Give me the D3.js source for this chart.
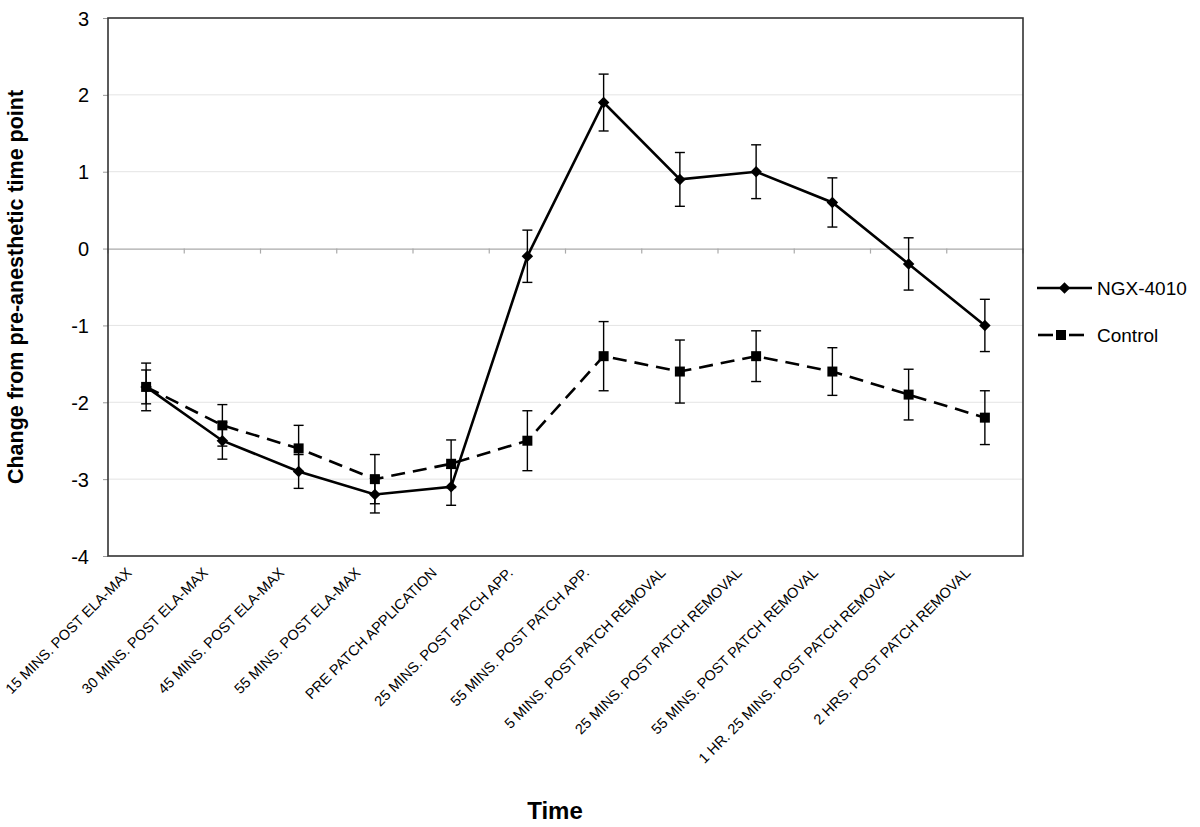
<!DOCTYPE html>
<html>
<head>
<meta charset="utf-8">
<script src="https://cdn.jsdelivr.net/npm/d3@7"></script>
<style>
  body { margin: 0; background: #fff; }
  svg { display: block; font-family: Arial, "Liberation Sans", sans-serif; }
</style>
</head>
<body>
<svg id="chart" width="1200" height="827"></svg>
<script>
const categories = [
  "15 MINS. POST ELA-MAX",
  "30 MINS. POST ELA-MAX",
  "45 MINS. POST ELA-MAX",
  "55 MINS. POST ELA-MAX",
  "PRE PATCH APPLICATION",
  "25 MINS. POST PATCH APP.",
  "55 MINS. POST PATCH APP.",
  "5 MINS. POST PATCH REMOVAL",
  "25 MINS. POST PATCH REMOVAL",
  "55 MINS. POST PATCH REMOVAL",
  "1 HR. 25 MINS. POST PATCH REMOVAL",
  "2 HRS. POST PATCH REMOVAL"
];
const ngxValues   = [-1.8, -2.5, -2.9, -3.2, -3.1, -0.1, 1.9, 0.9, 1.0, 0.6, -0.2, -1.0];
const ngxErrors   = [0.22, 0.24, 0.22, 0.24, 0.24, 0.34, 0.37, 0.35, 0.35, 0.32, 0.34, 0.34];
const ctrlValues  = [-1.8, -2.3, -2.6, -3.0, -2.8, -2.5, -1.4, -1.6, -1.4, -1.6, -1.9, -2.2];
const ctrlErrors  = [0.31, 0.27, 0.30, 0.32, 0.31, 0.39, 0.45, 0.41, 0.33, 0.31, 0.33, 0.35];
const yTicks = [-4, -3, -2, -1, 0, 1, 2, 3];
const seriesNames = ["NGX-4010", "Control"];

const svg = d3.select("#chart");
const pLeft = 108, pRight = 1023, pTop = 18, pBottom = 556;

const x = d3.scaleBand().domain(categories).range([pLeft, pRight]).paddingInner(0).paddingOuter(0);
const y = d3.scaleLinear().domain([-4, 3]).range([pBottom, pTop]);
const cx = d => x(d) + x.bandwidth() / 2;

// gridlines
svg.append("g").selectAll("line").data(yTicks.filter(t => t !== 0 && t !== -4 && t !== 3)).join("line")
  .attr("x1", pLeft).attr("x2", pRight)
  .attr("y1", d => y(d)).attr("y2", d => y(d))
  .attr("stroke", "#e4e4e4").attr("stroke-width", 1);

// y axis
const yAxis = d3.axisLeft(y).tickValues(yTicks).tickSize(5).tickPadding(14).tickFormat(d => String(d));
const yg = svg.append("g").attr("transform", `translate(${pLeft},0)`).call(yAxis);
yg.select(".domain").remove();
yg.selectAll(".tick line").attr("stroke", "#999");
yg.selectAll(".tick text").attr("font-size", 20).attr("fill", "#000")
  .attr("font-family", "Arial, 'Liberation Sans', sans-serif").attr("dy", "0.35em");

// category axis crossing at 0
const xAxis = d3.axisBottom(x).tickSize(0).tickFormat("");
const xg = svg.append("g").attr("transform", `translate(0,${y(0)})`).call(xAxis);
xg.select(".domain").attr("stroke", "#aaa").attr("stroke-width", 1.2);
const boundaries = d3.range(categories.length + 1).map(i => pLeft + i * x.bandwidth());
xg.selectAll(".bticks").data(boundaries).join("line")
  .attr("x1", d => d).attr("x2", d => d).attr("y1", 0).attr("y2", 5)
  .attr("stroke", "#aaa").attr("stroke-width", 1.2);

// plot frame
svg.append("rect").attr("x", pLeft).attr("y", pTop).attr("width", pRight - pLeft).attr("height", pBottom - pTop)
  .attr("fill", "none").attr("stroke", "#333").attr("stroke-width", 1.6);

// x labels (rotated)
svg.append("g").selectAll("text").data(categories).join("text")
  .attr("transform", d => `translate(${cx(d) - 17},${pBottom + 14}) rotate(-45)`)
  .attr("text-anchor", "end")
  .attr("dy", "0.35em")
  .attr("font-size", 14.5)
  .attr("fill", "#000")
  .text(d => d);

// error bars
function errorBars(vals, errs) {
  const g = svg.append("g").attr("stroke", "#000").attr("stroke-width", 1.4);
  const data = categories.map((c, i) => ({c, v: vals[i], e: errs[i]}));
  g.selectAll(".v").data(data).join("line")
    .attr("x1", d => cx(d.c)).attr("x2", d => cx(d.c))
    .attr("y1", d => y(d.v + d.e)).attr("y2", d => y(d.v - d.e));
  g.selectAll(".t").data(data).join("line")
    .attr("x1", d => cx(d.c) - 5).attr("x2", d => cx(d.c) + 5)
    .attr("y1", d => y(d.v + d.e)).attr("y2", d => y(d.v + d.e));
  g.selectAll(".b").data(data).join("line")
    .attr("x1", d => cx(d.c) - 5).attr("x2", d => cx(d.c) + 5)
    .attr("y1", d => y(d.v - d.e)).attr("y2", d => y(d.v - d.e));
}
errorBars(ctrlValues, ctrlErrors);
errorBars(ngxValues, ngxErrors);

const line = d3.line().x((d, i) => cx(categories[i])).y(d => y(d));

// control line
svg.append("path").datum(ctrlValues).attr("d", line)
  .attr("fill", "none").attr("stroke", "#000").attr("stroke-width", 2.6)
  .attr("stroke-dasharray", "14,8");
// ngx line
svg.append("path").datum(ngxValues).attr("d", line)
  .attr("fill", "none").attr("stroke", "#000").attr("stroke-width", 2.6);

const diamond = d3.symbol().type(d3.symbolSquare).size(66);
svg.append("g").selectAll("path").data(ngxValues).join("path")
  .attr("transform", (d, i) => `translate(${cx(categories[i])},${y(d)}) rotate(45)`)
  .attr("d", diamond).attr("fill", "#000");

const square = d3.symbol().type(d3.symbolSquare).size(100);
svg.append("g").selectAll("path").data(ctrlValues).join("path")
  .attr("transform", (d, i) => `translate(${cx(categories[i])},${y(d)})`)
  .attr("d", square).attr("fill", "#000");

// legend
const lg = svg.append("g");
const ly = [288, 335];
lg.append("line").attr("x1", 1037).attr("x2", 1092).attr("y1", ly[0]).attr("y2", ly[0])
  .attr("stroke", "#000").attr("stroke-width", 2.6);
lg.append("path").attr("transform", `translate(1064.5,${ly[0]}) rotate(45)`).attr("d", diamond).attr("fill", "#000");
lg.append("line").attr("x1", 1038).attr("x2", 1053).attr("y1", ly[1]).attr("y2", ly[1])
  .attr("stroke", "#000").attr("stroke-width", 2.6);
lg.append("line").attr("x1", 1069).attr("x2", 1084).attr("y1", ly[1]).attr("y2", ly[1])
  .attr("stroke", "#000").attr("stroke-width", 2.6);
lg.append("path").attr("transform", `translate(1061,${ly[1]})`).attr("d", square).attr("fill", "#000");
lg.selectAll("text").data(seriesNames).join("text")
  .attr("x", 1097).attr("y", (d, i) => ly[i]).attr("dy", "0.35em")
  .attr("font-size", 19).attr("fill", "#000").text(d => d);

// axis titles
svg.append("text").attr("transform", `translate(23,${(pTop + pBottom) / 2}) rotate(-90)`)
  .attr("text-anchor", "middle").attr("font-weight", "bold").attr("font-size", 21.5)
  .text("Change from pre-anesthetic time point");
svg.append("text").attr("x", 555).attr("y", 819)
  .attr("text-anchor", "middle").attr("font-weight", "bold").attr("font-size", 24)
  .text("Time");
</script>
</body>
</html>
